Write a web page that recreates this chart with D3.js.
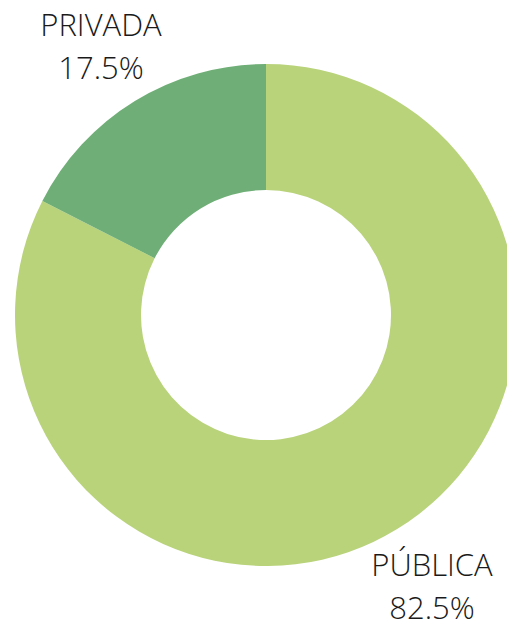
<!DOCTYPE html>
<html>
<head>
<meta charset="utf-8">
<script src="https://cdn.jsdelivr.net/npm/d3@7.9.0/dist/d3.min.js"></script>
<style>
  html, body { margin: 0; padding: 0; background: #fff; }
  svg text { font-family: "Open Sans", sans-serif; font-weight: 300; fill: #1a1a1a; }
</style>
</head>
<body>
<svg id="chart" width="507" height="624"></svg>
<script>
// data
const labels = ['PÚBLICA', 'PRIVADA'];
const values = [82.5, 17.5];
const colorList = ['#b9d37b', '#6faf77'];

const svg = d3.select('#chart');
const cx = 266, cy = 315;
const outerR = 251, innerR = 125;

const data = labels.map((label, i) => ({ label, value: values[i] }));

let colors = d3.scaleOrdinal().domain(labels).range(colorList);
let pie = d3.pie().value(d => d.value).sort(null);
let arc = d3.arc().innerRadius(innerR).outerRadius(outerR);

const g = svg.append('g').attr('transform', `translate(${cx},${cy})`);

g.selectAll('path')
  .data(pie(data))
  .join('path')
  .attr('d', arc)
  .attr('fill', d => colors(d.data.label));

// labels placed outside the ring
const labelPos = {
  'PÚBLICA': [432, 576],
  'PRIVADA': [101, 36]
};
data.forEach(d => {
  const [x, y] = labelPos[d.label];
  const t = svg.append('text')
    .attr('x', x)
    .attr('y', y)
    .attr('text-anchor', 'middle')
    .style('font-size', '31px');
  t.append('tspan').attr('x', x).text(d.label);
  t.append('tspan').attr('x', x).attr('dy', 43).text(d3.format('.1f')(d.value) + '%');
});
</script>
</body>
</html>
